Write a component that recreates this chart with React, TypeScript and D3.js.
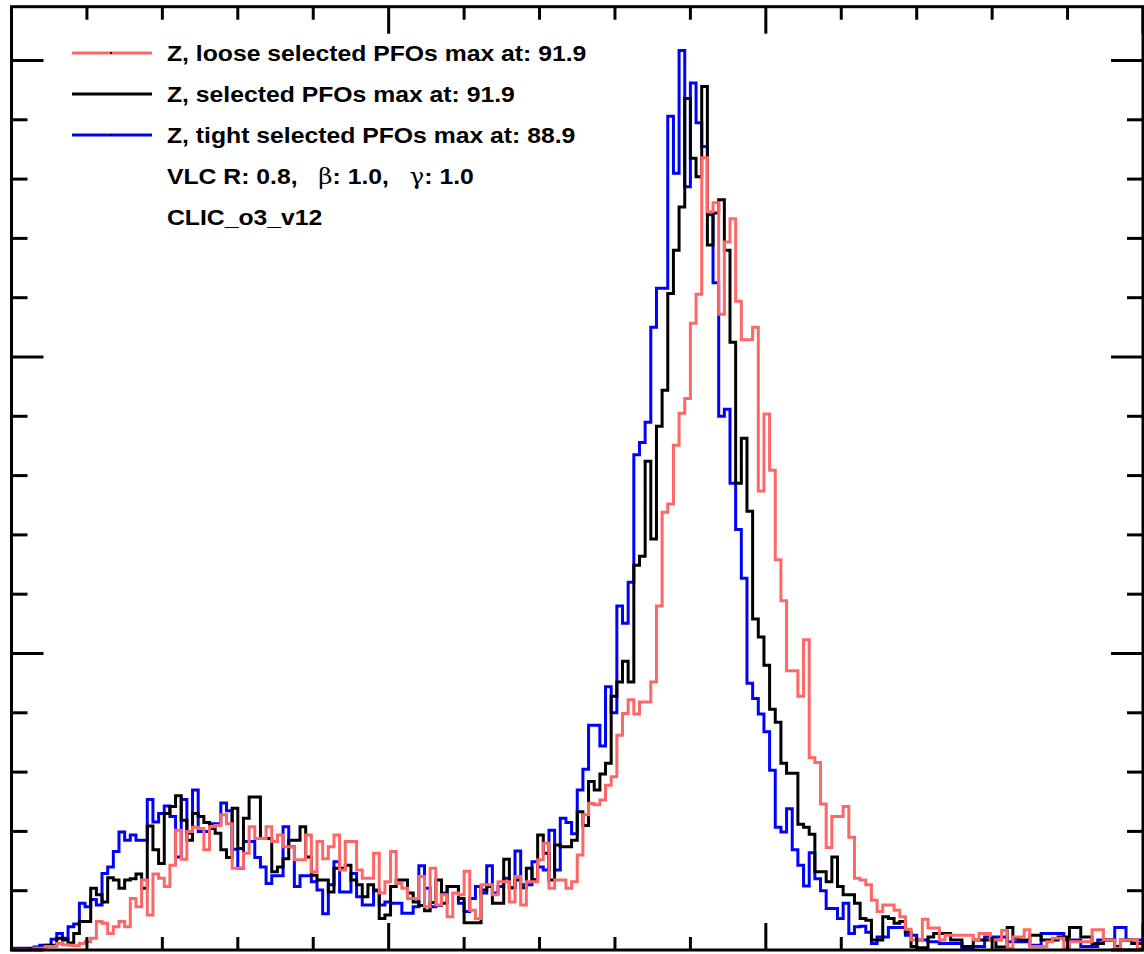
import React, { useEffect, useRef } from 'react';
import * as d3 from 'd3';

const W = 1144;
const H = 954;
const X_MIN = 0;
const X_MAX = 150;
const N_BINS = 200;
const Y_MAX = 159.07;

const xMinorTicks = d3.range(0, 151, 10);
const xMajorTicks = [0, 50, 100, 150];
const yMinorTicks = d3.range(0, 160, 10);
const yMajorTicks = [0, 50, 100, 150];

const redValues = [
  0.1, 0.1, 0.1, 0.1, 0.3, 0.3, 0.6, 0.6, 1.1, 0.9,
  0.8, 0.7, 1.1, 1.4, 2.0, 4.8, 4.5, 2.8, 3.9, 4.8,
  3.9, 8.7, 7.3, 11.8, 5.9, 12.8, 12.1, 10.7, 14.3, 20.2,
  15.3, 20.0, 20.7, 20.5, 16.9, 20.8, 21.0, 22.8, 21.3, 13.8,
  13.8, 16.3, 20.8, 18.8, 18.8, 20.8, 18.3, 19.4, 17.4, 17.4,
  15.2, 15.2, 19.4, 13.2, 18.3, 15.4, 17.4, 19.4, 13.5, 18.3,
  18.3, 13.5, 12.1, 12.1, 16.3, 9.6, 11.5, 16.6, 11.2, 10.4,
  8.7, 8.7, 12.4, 7.3, 13.8, 7.6, 9.3, 5.6, 9.6, 9.3,
  13.3, 6.7, 5.3, 11.0, 11.0, 9.3, 11.5, 11.5, 8.1, 12.4,
  7.6, 11.5, 11.5, 15.2, 18.0, 10.4, 11.8, 11.8, 10.4, 11.5,
  16.0, 22.8, 24.7, 24.5, 25.3, 27.8, 29.2, 36.2, 39.9, 42.2,
  39.8, 41.8, 41.8, 45.2, 58.0, 73.8, 75.2, 85.1, 90.5, 93.0,
  105.7, 110.6, 133.6, 124.5, 126.0, 107.2, 119.4, 123.3, 109.4, 102.9,
  102.9, 105.0, 77.4, 90.4, 80.9, 65.8, 58.9, 47.1, 47.1, 42.8,
  52.3, 32.4, 31.6, 24.6, 17.3, 22.5, 22.5, 24.2, 19.0, 12.1,
  11.8, 11.0, 8.4, 6.5, 7.6, 7.6, 6.7, 5.6, 3.5, 1.7,
  1.7, 5.2, 3.7, 3.7, 1.7, 2.5, 2.5, 2.5, 2.5, 2.5,
  1.7, 2.8, 2.8, 1.7, 1.7, 3.3, 0.3, 2.2, 2.2, 3.4,
  0.6, 0.6, 0.6, 1.4, 2.0, 2.0, 0.3, 1.4, 1.4, 1.4,
  1.4, 3.4, 3.4, 1.7, 1.7, 0.3, 1.7, 1.7, 1.7, 0.3,
];

const blackValues = [
  0.1, 0.1, 0.1, 0.2, 0.2, 0.3, 0.8, 0.8, 2.0, 1.7,
  1.2, 2.8, 4.8, 4.8, 10.4, 9.3, 8.1, 12.2, 11.8, 10.4,
  11.8, 12.0, 12.8, 10.4, 20.9, 16.9, 14.6, 23.0, 24.2, 26.0,
  21.9, 18.5, 23.0, 22.5, 21.5, 20.5, 19.7, 16.9, 15.6, 23.9,
  17.1, 22.2, 25.8, 25.8, 18.8, 18.8, 13.2, 14.0, 15.4, 18.5,
  18.5, 20.8, 15.7, 12.6, 11.8, 11.8, 9.8, 13.8, 13.8, 14.3,
  11.8, 11.0, 9.0, 11.0, 10.0, 5.3, 5.9, 10.7, 11.8, 11.8,
  9.6, 8.1, 7.5, 6.6, 8.0, 11.8, 7.9, 10.7, 10.7, 8.7,
  4.6, 4.6, 4.6, 10.1, 10.7, 7.9, 7.9, 15.3, 10.5, 11.8,
  10.5, 13.8, 11.9, 19.4, 16.3, 11.8, 17.7, 17.4, 17.4, 18.5,
  23.3, 21.0, 28.4, 27.0, 29.7, 31.5, 42.8, 45.2, 48.7, 45.2,
  64.9, 66.4, 82.4, 69.3, 88.3, 94.4, 110.7, 118.0, 125.3, 143.6,
  133.5, 130.4, 145.6, 118.9, 124.3, 126.5, 118.0, 102.5, 78.7, 86.3,
  74.0, 55.8, 52.8, 48.0, 40.6, 38.4, 31.5, 29.8, 29.8, 21.2,
  20.7, 19.5, 13.2, 13.2, 11.5, 15.7, 10.7, 9.3, 9.3, 7.9,
  5.3, 5.0, 1.7, 1.7, 5.6, 5.3, 4.5, 4.8, 3.0, 0.6,
  0.4, 0.4, 2.2, 2.8, 2.8, 2.8, 1.7, 1.7, 0.6, 0.6,
  1.7, 1.7, 1.7, 1.7, 0.5, 0.5, 3.8, 2.0, 1.7, 1.7,
  2.5, 2.5, 1.7, 1.7, 1.7, 2.2, 2.2, 3.8, 3.8, 2.2,
  2.2, 1.1, 1.1, 1.7, 1.7, 0.6, 1.7, 1.7, 1.1, 1.1,
];

const blueValues = [
  0.3, 0.3, 0.3, 0.3, 0.5, 0.8, 0.8, 1.8, 2.8, 2.0,
  3.9, 4.4, 7.9, 7.3, 8.5, 7.6, 12.9, 14.0, 16.6, 19.9,
  18.5, 19.4, 18.5, 18.5, 25.4, 21.6, 23.0, 24.3, 22.5, 15.7,
  25.4, 19.7, 27.0, 20.0, 20.0, 21.3, 21.3, 24.8, 23.5, 17.0,
  13.8, 18.3, 18.3, 15.6, 14.0, 11.2, 12.5, 12.5, 20.8, 17.4,
  10.7, 12.5, 12.5, 11.5, 10.1, 6.1, 11.0, 14.9, 9.8, 9.8,
  12.9, 9.0, 7.6, 7.6, 10.1, 7.6, 8.1, 7.9, 7.9, 6.2,
  6.2, 7.3, 14.2, 10.4, 7.3, 7.5, 9.6, 10.7, 10.7, 7.9,
  6.5, 8.7, 10.7, 9.6, 14.2, 9.6, 10.7, 12.1, 10.5, 16.7,
  11.0, 11.0, 14.9, 14.0, 13.5, 20.2, 13.5, 22.2, 21.5, 19.6,
  27.0, 30.5, 37.9, 37.9, 34.4, 44.4, 40.0, 58.0, 55.1, 62.0,
  83.5, 85.6, 89.0, 105.0, 111.6, 111.6, 140.6, 131.0, 151.7, 128.7,
  146.2, 139.5, 135.5, 124.0, 112.5, 90.0, 91.2, 78.7, 70.9, 62.7,
  45.0, 42.4, 39.8, 36.8, 30.3, 20.7, 19.9, 23.8, 16.9, 14.3,
  10.8, 16.4, 12.0, 10.0, 7.0, 7.0, 5.3, 7.9, 2.8, 3.9,
  4.0, 3.0, 1.1, 2.2, 2.2, 3.8, 3.8, 3.8, 2.5, 2.5,
  1.7, 1.7, 1.4, 1.4, 1.1, 1.1, 1.1, 1.1, 0.3, 0.3,
  0.6, 0.6, 2.2, 2.2, 2.2, 2.2, 1.4, 1.4, 1.4, 1.4,
  0.8, 0.8, 2.8, 2.8, 2.8, 2.8, 1.7, 1.7, 1.7, 0.6,
  0.6, 0.6, 1.7, 1.7, 1.7, 3.8, 3.8, 1.7, 1.7, 1.7,
];

const seriesNames = [
  'Z, loose selected PFOs max at: 91.9',
  'Z, selected PFOs max at: 91.9',
  'Z, tight selected PFOs max at: 88.9',
];
const seriesColors = ['#ff6666', '#000000', '#0000ff'];
const drawOrder = [2, 1, 0];

export default function App() {
  const ref = useRef<SVGSVGElement>(null);

  useEffect(() => {
    const svg = d3.select(ref.current);
    svg.selectAll('*').remove();

    const left = 11.5, right = 1143, top = 6.7, bottom = 950;
    const x = d3.scaleLinear().domain([X_MIN, X_MAX]).range([left, right]);
    const y = d3.scaleLinear().domain([0, Y_MAX]).range([bottom, top]);
    const binW = (X_MAX - X_MIN) / N_BINS;
    const allValues = [redValues, blackValues, blueValues];

    svg.append('rect').attr('x', 0).attr('y', 0).attr('width', W).attr('height', H).attr('fill', '#fff');

    const defs = svg.append('defs');
    defs.append('clipPath').attr('id', 'plotclip')
      .append('rect').attr('x', left).attr('y', top).attr('width', right - left).attr('height', bottom - top);

    const line = d3.line<[number, number]>().x(d => x(d[0])).y(d => y(d[1]));
    const stepPoints = (vals: number[]) =>
      vals.flatMap((v, i) => [[X_MIN + i * binW, v], [X_MIN + (i + 1) * binW, v]] as [number, number][]);

    const g = svg.append('g').attr('clip-path', 'url(#plotclip)');
    drawOrder.forEach(k => {
      g.append('path')
        .attr('d', line(stepPoints(allValues[k])) || '')
        .attr('fill', 'none')
        .attr('stroke', seriesColors[k])
        .attr('stroke-width', 3)
        .attr('stroke-linejoin', 'miter');
    });

    // frame
    svg.append('rect').attr('x', left).attr('y', top).attr('width', right - left).attr('height', bottom - top)
      .attr('fill', 'none').attr('stroke', '#000').attr('stroke-width', 3);

    const axes = svg.append('g').attr('stroke', '#000').attr('stroke-width', 3);
    xMinorTicks.forEach(t => {
      const len = xMajorTicks.includes(t) ? 27 : 13;
      axes.append('line').attr('x1', x(t)).attr('x2', x(t)).attr('y1', bottom).attr('y2', bottom - len);
      axes.append('line').attr('x1', x(t)).attr('x2', x(t)).attr('y1', top).attr('y2', top + len);
    });
    yMinorTicks.forEach(t => {
      const len = yMajorTicks.includes(t) ? 32 : 16;
      axes.append('line').attr('y1', y(t)).attr('y2', y(t)).attr('x1', left).attr('x2', left + len);
      axes.append('line').attr('y1', y(t)).attr('y2', y(t)).attr('x1', right).attr('x2', right - len);
    });

    // legend
    const font = "'Liberation Sans', Arial, Helvetica, sans-serif";
    const fs = 22.5;
    const sx = 1.1;
    const rowY = [53, 94, 135];
    seriesNames.forEach((name, k) => {
      svg.append('line').attr('x1', 72).attr('x2', 152).attr('y1', rowY[k]).attr('y2', rowY[k])
        .attr('stroke', seriesColors[k]).attr('stroke-width', 3);
      svg.append('rect').attr('x', 110).attr('y', rowY[k] - 1).attr('width', 2).attr('height', 2).attr('fill', '#000');
      svg.append('text').attr('transform', `translate(167,${rowY[k] + 8}) scale(${sx},1)`)
        .attr('font-family', font).attr('font-weight', 'bold').attr('font-size', fs)
        .text(name);
    });

    const info = svg.append('text').attr('transform', `translate(167,184) scale(${sx},1)`)
      .attr('font-family', font).attr('font-weight', 'bold').attr('font-size', fs)
      .attr('xml:space', 'preserve').style('white-space', 'pre');
    info.append('tspan').text('VLC R: 0.8,   ');
    info.append('tspan').attr('font-weight', 'normal').attr('font-family', "'DejaVu Serif', 'Liberation Serif', serif").text('β');
    info.append('tspan').text(': 1.0,   ');
    info.append('tspan').attr('font-weight', 'normal').attr('font-family', "'DejaVu Serif', 'Liberation Serif', serif").text('γ');
    info.append('tspan').text(': 1.0');

    svg.append('text').attr('transform', `translate(167,225) scale(${sx},1)`)
      .attr('font-family', font).attr('font-weight', 'bold').attr('font-size', fs)
      .text('CLIC_o3_v12');
  }, []);

  return (
    <svg ref={ref} width={W} height={H}
      style={{ position: 'absolute', left: 0, top: 0, display: 'block', background: '#fff' }} />
  );
}
